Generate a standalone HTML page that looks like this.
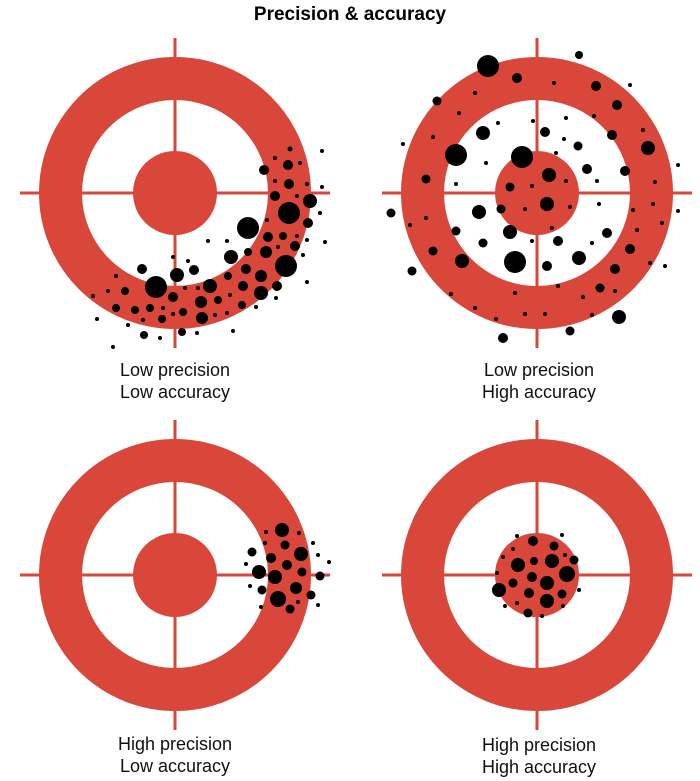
<!DOCTYPE html>
<html><head><meta charset="utf-8"><style>
html,body{margin:0;padding:0;background:#fff;width:700px;height:781px;overflow:hidden}
svg{position:absolute;left:0;top:0}
</style></head><body>
<svg id="s" width="700" height="781" xmlns="http://www.w3.org/2000/svg" font-family="Liberation Sans, sans-serif">
<text x="350" y="20" text-anchor="middle" font-weight="bold" font-size="19">Precision &amp; accuracy</text>
<g font-size="18" text-anchor="middle" fill="#111">
<text x="175" y="376">Low precision</text><text x="175" y="398">Low accuracy</text>
<text x="539" y="376">Low precision</text><text x="539" y="398">High accuracy</text>
<text x="175" y="750">High precision</text><text x="175" y="772">Low accuracy</text>
<text x="539" y="751">High precision</text><text x="539" y="773">High accuracy</text>
</g>
</svg>
<script>
var s=document.getElementById('s'),NS='http://www.w3.org/2000/svg',C='#d9463a';
function el(t,a){var e=document.createElementNS(NS,t);for(var k in a)e.setAttribute(k,a[k]);s.appendChild(e);return e;}
function target(cx,cy){
 el('circle',{cx:cx,cy:cy,r:114.5,fill:'none',stroke:C,'stroke-width':43});
 el('line',{x1:cx-155,y1:cy,x2:cx+155,y2:cy,stroke:C,'stroke-width':3});
 el('line',{x1:cx,y1:cy-155,x2:cx,y2:cy+155,stroke:C,'stroke-width':3});
 el('circle',{cx:cx,cy:cy,r:42,fill:C});
}
target(175,193);target(537,193);target(175,575);target(537,575);
var d=[
[264,170,5],[288,165,5],[290,149,2.5],[322,151,2],[275,158,2],[300,163,2],[289,184,5],[275,181,2],[307,184,2],[322,187,2],[275,196,5],[297,196,2],[310,201,7],[289,213,11],[320,213,2],[308,223,5],[248,228,11],[267,220,2],[268,237,5],[283,236,4],[297,236,2],[307,240,2],[325,242,2],[295,246,5],[278,247,2],[266,252,6],[248,252,4],[231,257,7],[208,241,2],[227,241,2],[286,266,11],[303,255,2],[261,276,6],[246,269,5],[228,276,4],[243,286,5],[277,286,5],[261,293,7],[307,282,2],[276,298,2],[256,307,2],[242,305,4],[233,331,2],[210,286,7],[194,270,5],[188,261,2],[173,257,2],[177,275,7],[142,269,5],[156,287,11],[116,276,2],[125,291,4],[108,291,2],[93,296,2],[116,308,4],[135,310,4],[150,308,4],[163,308,2],[173,297,5],[185,288,2],[198,288,2],[201,302,6],[218,300,4],[230,295,2],[202,318,6],[183,312,4],[173,314,2],[162,319,4],[143,320,2],[128,325,2],[97,319,2],[144,335,4],[160,338,2],[182,332,4],[197,333,2],[215,315,2],[227,313,2],[113,347,2],
[517,536,2],[533,541,5],[554,546,4.5],[562,535,2],[513,549,2],[503,557,2],[534,561,4],[552,561,7],[565,555,2],[574,560,4.5],[518,565,7],[497,573,2],[532,577,5],[567,574,8],[513,583,4.5],[547,583,7],[499,590,7],[529,593,5],[562,594,4.5],[579,590,2],[547,601,7],[517,603,2],[505,606,2],[528,613,4.5],[542,616,2],[563,606,2],
[488,66,11],[517,78,5],[579,55,4],[554,83,2],[596,86,5],[630,85,2],[475,93,2],[437,101,4.5],[617,105,5],[459,113,2],[498,123,2],[533,121,2],[566,118,2],[594,116,2],[483,133,7],[545,132,5],[433,137,2],[564,139,2],[612,135,5],[643,130,2],[403,144,2],[578,146,4.5],[648,148,7],[456,155,11],[522,157,11],[486,163,2],[556,153,2],[587,169,5],[625,171,5],[678,165,2],[549,175,7],[426,179,4.5],[566,181,2],[597,181,2],[655,182,2],[456,184,2],[510,187,4.5],[532,186,2],[547,204,7],[479,212,7],[501,209,4.5],[525,209,2],[570,207,2],[599,204,2],[633,210,2],[653,204,2],[678,211,2],[391,213,4.5],[426,218,2],[410,225,2],[552,228,2],[662,223,2],[637,230,2],[456,231,4.5],[510,232,7],[607,233,5],[483,243,4.5],[532,241,2],[558,241,5],[592,243,2],[630,249,5],[433,251,4.5],[462,261,7],[515,262,11],[547,266,5],[579,258,7],[615,269,5],[650,263,2],[665,266,2],[412,271,4.5],[558,286,2],[600,288,4.5],[615,291,2],[451,294,2],[515,293,2],[583,297,2],[475,308,2],[496,319,2],[525,314,2],[545,314,2],[592,315,2],[619,317,7],[503,338,5],[570,331,4.5],
[282,530,7],[266,532,2],[299,533,2],[265,543,2],[285,545,4.5],[252,552,4.5],[301,554,7],[271,558,5],[313,543,2],[318,555,2],[329,562,2],[246,564,2],[287,565,5],[259,572,7],[302,572,4.5],[275,577,7],[320,576,4.5],[250,586,2],[296,588,6],[262,590,4.5],[311,595,4.5],[278,599,8],[298,602,2],[261,607,2],[290,609,4.5],[318,605,2]
];
d.forEach(function(p){el('circle',{cx:p[0],cy:p[1],r:p[2],fill:'#000'});});
</script>
</body></html>
